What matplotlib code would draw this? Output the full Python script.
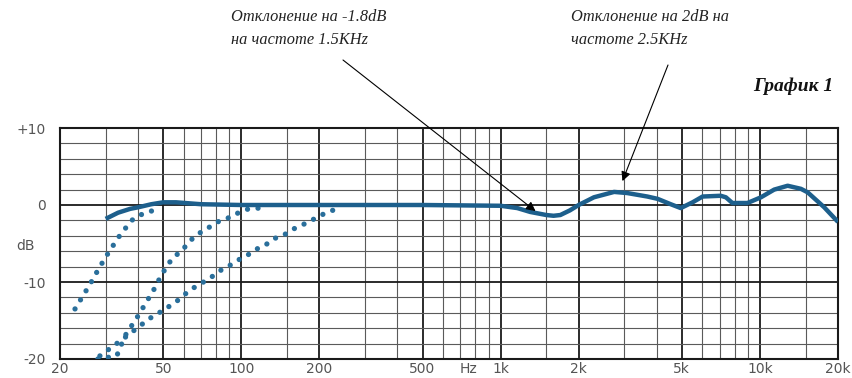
import matplotlib
matplotlib.use("Agg")
import matplotlib.pyplot as plt

# Frequency response: main curve (solid)
main_freq = [30, 33.5, 37.3, 40, 45, 50, 56, 70, 100, 200, 500, 1000, 1160, 1300,
             1500, 1600, 1700, 1850, 2000, 2290, 2740, 3080, 3680, 4030, 4530, 4950,
             5500, 6010, 7060, 7390, 7830, 8950, 10090, 11350, 12790, 14390, 15270,
             17700, 20000]
main_db = [-1.8, -1.0, -0.5, -0.3, 0.1, 0.35, 0.35, 0.1, 0.0, 0.0, 0.0, -0.1, -0.4, -0.9,
           -1.3, -1.4, -1.3, -0.7, 0.0, 1.0, 1.7, 1.55, 1.1, 0.8, 0.1, -0.4,
           0.35, 1.1, 1.2, 1.0, 0.26, 0.26, 1.0, 2.0, 2.5, 2.1, 1.65,
           -0.3, -2.2]

# Low-cut filter responses (dotted)
cut_a_freq = [22.85, 26.1, 28.4, 31.0, 34.1, 37.8, 40.7, 44.3, 48.3]
cut_a_db = [-13.5, -10.3, -8.1, -6.0, -3.9, -2.0, -1.3, -0.9, -0.3]

cut_b_freq = [28.0, 33.1, 35.6, 40, 46, 49.4, 54, 59, 65.5, 71.5, 77, 83, 90.6, 97.6,
              106.7, 118]
cut_b_db = [-20.0, -19.6, -17.0, -14.4, -11.0, -9.0, -7.0, -5.9, -4.2, -3.3, -2.7, -2.0,
            -1.6, -1.0, -0.5, -0.4]

cut_c_freq = [28.5, 30.7, 35.3, 40.7, 44, 51, 58, 63, 71.5, 78, 84, 92, 99, 107, 115,
              124, 133, 146, 157, 169, 182, 196, 214, 234]
cut_c_db = [-19.6, -18.8, -17.3, -15.7, -14.8, -13.5, -12.2, -11.1, -10.0, -9.2, -8.4,
            -7.7, -7.0, -6.4, -5.7, -5.2, -4.4, -3.9, -3.2, -2.7, -2.2, -1.6, -0.95, -0.5]

# Axis labelling
x_tick_pos = [20, 50, 100, 200, 500, 750, 1000, 2000, 5000, 10000, 20000]
x_tick_labels = ["20", "50", "100", "200", "500", "Hz", "1k", "2k", "5k", "10k", "20k"]
y_tick_pos = [10, 0, -10, -20]
y_tick_labels = ["+10", "0", "-10", "-20"]

# Grid lines
v_major = [50, 100, 200, 500, 1000, 2000, 5000, 10000]
v_minor = [30, 40, 60, 70, 80, 90, 150, 300, 400, 600, 700, 800, 900, 1500,
           3000, 4000, 6000, 7000, 8000, 9000, 15000]
h_major = [0, -10]
h_minor = [8, 6, 4, 2, -2, -4, -6, -8, -12, -14, -16, -18]

note_1 = "Отклонение на -1.8dB\nна частоте 1.5KHz"
note_2 = "Отклонение на 2dB на\nчастоте 2.5KHz"
title = "График 1"

fig = plt.figure(figsize=(8.53, 3.78), dpi=100)
ax = fig.add_axes([60 / 853, 1 - 359 / 378, 778 / 853, 231 / 378])
ax.set_xscale("log")
ax.set_xlim(20, 20000)
ax.set_ylim(-20, 10)

for f in v_minor:
    ax.axvline(f, color="#5a5a5a", lw=0.8, zorder=1)
for f in v_major:
    ax.axvline(f, color="#1a1a1a", lw=1.3, zorder=1)
for d in h_minor:
    ax.axhline(d, color="#5a5a5a", lw=0.8, zorder=1)
for d in h_major:
    ax.axhline(d, color="#1a1a1a", lw=1.3, zorder=1)

dot_style = dict(color="#2a6f9b", lw=3.8, linestyle=(0, (0.01, 2.0)),
                 dash_capstyle="round", zorder=3)
ax.plot(cut_a_freq, cut_a_db, **dot_style)
ax.plot(cut_b_freq, cut_b_db, **dot_style)
ax.plot(cut_c_freq, cut_c_db, **dot_style)
ax.plot(main_freq, main_db, color="#1d5f8c", lw=3.2, solid_capstyle="butt",
        solid_joinstyle="round", zorder=4)

for s in ax.spines.values():
    s.set_linewidth(1.5)
    s.set_color("#1a1a1a")

ax.minorticks_off()
ax.set_xticks(x_tick_pos)
ax.set_xticklabels(x_tick_labels)
ax.set_yticks(y_tick_pos)
ax.set_yticklabels(y_tick_labels)
ax.tick_params(axis="both", length=0, labelsize=10, labelcolor="#555555")
ax.tick_params(axis="x", pad=2)
ax.tick_params(axis="y", pad=10)
ax.text(-0.032, 0.49, "dB", transform=ax.transAxes, ha="right", va="center",
        fontsize=10, color="#555555")

note_font = dict(family="Liberation Serif", style="italic", fontsize=11.8, color="#222222")
fig.text(231 / 853, 1 - 9 / 378, note_1, ha="left", va="top", linespacing=1.55, **note_font)
fig.text(571 / 853, 1 - 9 / 378, note_2, ha="left", va="top", linespacing=1.55, **note_font)
fig.text(833 / 853, 1 - 86 / 378, title, ha="right", va="center",
         family="Liberation Serif", style="italic", weight="bold", fontsize=14,
         color="#111111")

arrow = dict(arrowstyle="-|>", color="black", lw=0.8, mutation_scale=14,
             shrinkA=0, shrinkB=0)
ax.annotate("", xy=(1364, -0.8), xycoords="data",
            xytext=(343 / 853, 1 - 60 / 378), textcoords="figure fraction",
            arrowprops=arrow, zorder=6)
ax.annotate("", xy=(2950, 3.1), xycoords="data",
            xytext=(668 / 853, 1 - 65 / 378), textcoords="figure fraction",
            arrowprops=arrow, zorder=6)

fig.savefig("out.png", dpi=100)
